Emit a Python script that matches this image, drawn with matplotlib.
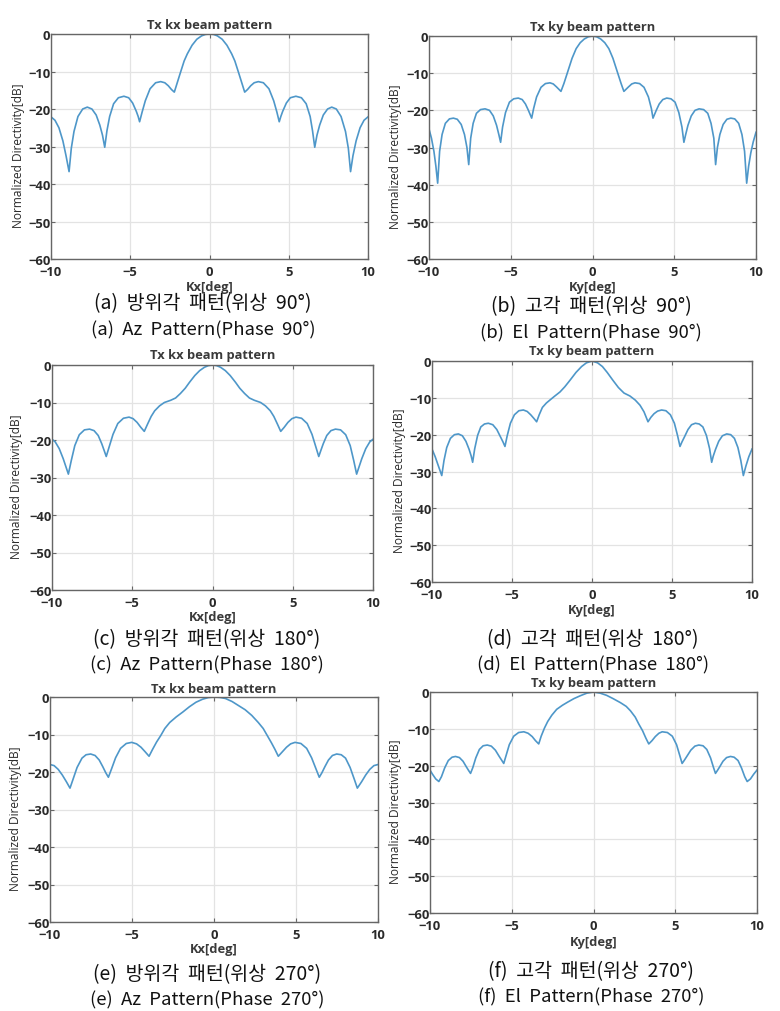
import matplotlib
matplotlib.use("Agg")
import matplotlib.pyplot as plt

# ---- data (deg, normalized directivity dB) ----
az90_x = [-10, -9.75, -9.5, -9.25, -9.05, -8.86, -8.72, -8.55, -8.3, -8.0, -7.71, -7.42, -7.15, -6.92, -6.75,
          -6.61, -6.47, -6.3, -6.05, -5.75, -5.4, -5.1, -4.85, -4.62, -4.5, -4.41, -4.25, -4.05, -3.75, -3.4,
          -3.08, -2.82, -2.6, -2.4, -2.22, -2.05, -1.85, -1.6, -1.4, -1.1, -0.8, -0.5, -0.25, 0, 0.25, 0.5, 0.8,
          1.1, 1.4, 1.6, 1.85, 2.05, 2.22, 2.4, 2.6, 2.82, 3.08, 3.4, 3.75, 4.05, 4.25, 4.4, 4.5, 4.62, 4.85,
          5.1, 5.45, 5.8, 6.1, 6.35, 6.5, 6.64, 6.78, 6.95, 7.18, 7.45, 7.71, 8.0, 8.3, 8.58, 8.76, 8.9, 9.05,
          9.25, 9.5, 9.75, 10]
az90_db = [-22.1, -23.0, -25.0, -28.5, -32.5, -36.7, -30.5, -26.0, -22.0, -20.0, -19.5, -20.0, -21.6, -24.3, -27.0,
           -30.2, -25.8, -22.0, -18.6, -17.0, -16.6, -17.0, -18.4, -20.6, -22.0, -23.4, -20.8, -17.8, -14.6, -13.0,
           -12.7, -13.0, -13.8, -14.8, -15.5, -13.2, -10.5, -7.2, -5.3, -3.0, -1.4, -0.5, -0.1, 0, -0.1, -0.5, -1.4,
           -3.0, -5.3, -7.2, -10.5, -13.2, -15.5, -14.8, -13.8, -13.0, -12.7, -13.0, -14.6, -17.8, -20.8, -23.4, -22.0, -20.6, -18.4,
           -17.0, -16.6, -17.0, -18.6, -22.0, -25.8, -30.2, -27.0, -24.3, -21.6, -20.0, -19.5, -20.0, -22.0, -26.0, -30.5, -36.7, -32.5,
           -28.5, -25.0, -23.0, -22.1]

el90_x = [-10, -9.85, -9.7, -9.58, -9.47, -9.35, -9.2, -9.0, -8.75, -8.51, -8.27, -8.03, -7.83, -7.68, -7.57,
          -7.45, -7.3, -7.1, -6.85, -6.57, -6.3, -6.07, -5.87, -5.73, -5.62, -5.5, -5.32, -5.08, -4.82, -4.54,
          -4.3, -4.1, -3.92, -3.72, -3.6, -3.42, -3.15, -2.88, -2.6, -2.4, -2.2, -1.93, -1.75, -1.5, -1.25, -1.0,
          -0.75, -0.5, -0.25, 0, 0.25, 0.5, 0.75, 1.0, 1.25, 1.5, 1.75, 1.92, 2.2, 2.4, 2.6, 2.88, 3.15, 3.42,
          3.6, 3.7, 3.9, 4.08, 4.3, 4.54, 4.8, 5.05, 5.28, 5.47, 5.59, 5.7, 5.84, 6.04, 6.27, 6.52, 6.8, 7.05,
          7.25, 7.42, 7.53, 7.64, 7.79, 7.99, 8.22, 8.46, 8.7, 8.94, 9.14, 9.3, 9.43, 9.55, 9.68, 9.83, 10]
el90_db = [-25.0, -27.5, -31.0, -35.0, -39.6, -31.0, -26.5, -23.5, -22.3, -22.1, -22.4, -23.8, -26.5, -30.0, -34.6,
           -27.5, -23.5, -20.8, -19.8, -19.6, -20.0, -21.5, -24.0, -26.5, -28.6, -24.5, -20.6, -17.8, -16.9, -16.7,
           -17.1, -18.3, -20.0, -22.1, -19.5, -16.4, -13.8, -12.8, -12.6, -12.9, -13.7, -14.9, -12.8, -9.4, -6.0, -3.4,
           -1.8, -0.8, -0.2, 0, -0.2, -0.8, -1.8, -3.4, -6.0, -9.4, -12.8, -14.9, -13.7, -12.9, -12.6, -12.8, -13.8, -16.4,
           -19.5, -22.1, -20.0, -18.3, -17.1, -16.7, -16.9, -17.8, -20.6, -24.5, -28.6, -26.5, -24.0, -21.5, -20.0, -19.6, -19.8, -20.8,
           -23.5, -27.5, -34.6, -30.0, -26.5, -23.8, -22.4, -22.1, -22.3, -23.5, -26.5, -31.0, -39.6, -35.0, -31.5, -28.5, -25.9]

az180_x = [-10, -9.8, -9.55, -9.3, -9.12, -8.98, -8.8, -8.58, -8.3, -7.98, -7.66, -7.38, -7.12, -6.9, -6.75,
           -6.62, -6.45, -6.2, -5.9, -5.55, -5.2, -4.95, -4.7, -4.47, -4.25, -4.05, -3.82, -3.6, -3.3, -3.0,
           -2.6, -2.3, -2.0, -1.7, -1.43, -1.1, -0.8, -0.5, -0.25, 0, 0.25, 0.5, 0.8, 1.1, 1.43, 1.7, 2.0, 2.3,
           2.6, 3.0, 3.3, 3.6, 3.82, 4.05, 4.25, 4.47, 4.7, 4.95, 5.2, 5.55, 5.9, 6.2, 6.45, 6.62, 6.75, 6.9,
           7.12, 7.38, 7.66, 7.98, 8.3, 8.58, 8.8, 8.98, 9.12, 9.3, 9.55, 9.8, 10]
az180_db = [-19.8, -20.5, -22.3, -25.0, -27.3, -29.1, -25.5, -21.5, -18.6, -17.3, -17.1, -17.5, -18.8, -21.0, -22.8,
            -24.4, -22.0, -18.5, -15.6, -14.2, -13.9, -14.3, -15.3, -16.6, -17.7, -15.8, -13.7, -12.2, -10.9, -10.0,
            -9.4, -8.8, -7.6, -6.2, -4.6, -2.8, -1.5, -0.6, -0.15, 0, -0.15, -0.6, -1.5, -2.8, -4.6, -6.2, -7.6, -8.8,
            -9.4, -10.0, -10.9, -12.2, -13.7, -15.8, -17.7, -16.6, -15.3, -14.3, -13.9, -14.2, -15.6, -18.5, -22.0, -24.4, -22.8, -21.0,
            -18.8, -17.5, -17.1, -17.3, -18.6, -21.5, -25.5, -29.1, -27.3, -25.0, -22.3, -20.5, -19.8]

el180_x = [-10, -9.8, -9.6, -9.39, -9.25, -9.08, -8.85, -8.6, -8.35, -8.1, -7.88, -7.68, -7.55, -7.46, -7.33,
           -7.15, -6.95, -6.72, -6.48, -6.2, -5.95, -5.72, -5.56, -5.44, -5.3, -5.1, -4.85, -4.57, -4.29, -4.05,
           -3.83, -3.63, -3.46, -3.3, -3.1, -2.85, -2.63, -2.35, -2.0, -1.7, -1.37, -1.0, -0.65, -0.35, 0,
           0.35, 0.65, 0.95, 1.3, 1.65, 2.0, 2.37, 2.7, 3.0, 3.25, 3.5, 3.68, 3.88, 4.1, 4.35, 4.62, 4.9, 5.15,
           5.35, 5.5, 5.62, 5.78, 6.0, 6.22, 6.46, 6.7, 6.93, 7.15, 7.35, 7.48, 7.58, 7.72, 7.92, 8.15, 8.42,
           8.67, 8.9, 9.12, 9.3, 9.46, 9.62, 9.8, 10]
el180_db = [-23.9, -26.0, -28.5, -31.1, -27.0, -23.5, -21.0, -20.0, -19.8, -20.3, -21.8, -24.0, -25.8, -27.5, -23.8,
            -20.2, -17.9, -17.1, -16.9, -17.3, -18.6, -20.6, -22.0, -23.2, -20.3, -16.9, -14.6, -13.5, -13.3, -13.7,
            -14.6, -15.6, -16.5, -14.6, -12.6, -11.4, -10.6, -9.6, -8.4, -7.0, -5.2, -3.1, -1.5, -0.5, 0,
            -0.5, -1.5, -3.1, -5.2, -7.2, -8.7, -9.5, -10.6, -12.0, -13.8, -16.5, -15.3, -14.3, -13.6, -13.3, -13.5, -14.6, -16.9,
            -20.3, -23.2, -22.0, -20.6, -18.6, -17.3, -16.9, -17.1, -17.9, -20.2, -23.8, -27.5, -25.8, -24.0, -21.8, -20.3, -19.8,
            -20.0, -21.0, -23.5, -27.0, -31.1, -28.5, -26.0, -23.9]

az270_x = [-10, -9.75, -9.5, -9.25, -9.0, -8.78, -8.6, -8.35, -8.05, -7.8, -7.52, -7.25, -7.0, -6.78, -6.6,
           -6.44, -6.25, -6.0, -5.7, -5.35, -5.02, -4.72, -4.45, -4.2, -3.96, -3.75, -3.5, -3.25, -3.0, -2.7,
           -2.3, -1.9, -1.5, -1.1, -0.7, -0.35, 0, 0.35, 0.7, 1.1, 1.5, 1.9, 2.3, 2.7, 3.0, 3.25, 3.5, 3.72,
           3.92, 4.17, 4.42, 4.67, 4.94, 5.3, 5.65, 5.95, 6.22, 6.42, 6.58, 6.76, 6.98, 7.22, 7.48, 7.76, 8.02,
           8.3, 8.56, 8.74, 9.0, 9.25, 9.5, 9.75, 10]
az270_db = [-18.0, -18.3, -19.3, -20.8, -22.6, -24.3, -22.0, -18.8, -16.3, -15.4, -15.2, -15.6, -16.8, -18.6, -20.2,
            -21.4, -19.2, -16.2, -13.7, -12.4, -12.1, -12.5, -13.4, -14.6, -15.8, -14.0, -12.0, -10.3, -8.4, -6.8,
            -5.3, -4.0, -2.6, -1.4, -0.6, -0.15, 0, -0.1, -0.4, -1.2, -2.3, -3.4, -4.9, -6.8, -8.4, -10.3, -12.2, -14.0,
            -15.8, -14.6, -13.4, -12.5, -12.1, -12.4, -13.7, -16.2, -19.2, -21.4, -20.2, -18.6, -16.8, -15.6, -15.2, -15.4, -16.3,
            -18.8, -22.0, -24.3, -22.6, -20.8, -19.3, -18.3, -18.0]

el270_x = [-10, -9.85, -9.65, -9.46, -9.3, -9.1, -8.88, -8.65, -8.44, -8.2, -7.98, -7.78, -7.64, -7.52, -7.38,
           -7.2, -6.98, -6.75, -6.5, -6.25, -6.0, -5.78, -5.62, -5.49, -5.35, -5.15, -4.88, -4.58, -4.26, -4.0,
           -3.75, -3.55, -3.35, -3.2, -3.0, -2.8, -2.55, -2.25, -1.9, -1.6, -1.2, -0.8, -0.4, 0,
           0.4, 0.8, 1.2, 1.65, 2.0, 2.26, 2.55, 2.77, 3.0, 3.2, 3.38, 3.58, 3.78, 4.0, 4.2, 4.52, 4.82, 5.08,
           5.28, 5.42, 5.56, 5.72, 5.95, 6.2, 6.44, 6.7, 6.93, 7.16, 7.34, 7.46, 7.58, 7.72, 7.92, 8.14, 8.38,
           8.6, 8.84, 9.05, 9.25, 9.4, 9.6, 9.8, 10]
el270_db = [-21.2, -22.3, -23.6, -24.3, -23.0, -20.6, -18.6, -17.7, -17.5, -17.8, -18.8, -20.3, -21.3, -22.1, -20.5,
            -17.9, -15.6, -14.6, -14.4, -14.7, -15.8, -17.4, -18.5, -19.4, -17.3, -14.3, -12.0, -11.0, -10.8, -11.2,
            -12.1, -13.2, -14.1, -12.0, -9.8, -8.0, -6.3, -4.7, -3.6, -2.8, -1.8, -1.0, -0.3, 0,
            -0.3, -0.9, -1.8, -2.9, -3.9, -5.1, -6.8, -8.7, -10.5, -12.5, -14.1, -13.2, -12.1, -11.2, -10.8, -11.0, -12.0, -14.3,
            -17.3, -19.4, -18.5, -17.4, -15.8, -14.7, -14.4, -14.6, -15.6, -17.9, -20.5, -22.1, -21.3, -20.3, -18.8, -17.8, -17.5,
            -17.7, -18.6, -20.6, -23.0, -24.3, -23.6, -22.3, -21.2]

titles = ["Tx kx beam pattern", "Tx ky beam pattern"] * 3
xlabels = ["Kx[deg]", "Ky[deg]"] * 3
captions_kr = ["(a)  방위각  패턴(위상  90°)", "(b)  고각  패턴(위상  90°)",
               "(c)  방위각  패턴(위상  180°)", "(d)  고각  패턴(위상  180°)",
               "(e)  방위각  패턴(위상  270°)", "(f)  고각  패턴(위상  270°)"]
captions_en = ["(a)  Az  Pattern(Phase  90°)", "(b)  El  Pattern(Phase  90°)",
               "(c)  Az  Pattern(Phase  180°)", "(d)  El  Pattern(Phase  180°)",
               "(e)  Az  Pattern(Phase  270°)", "(f)  El  Pattern(Phase  270°)"]
series = [(az90_x, az90_db), (el90_x, el90_db), (az180_x, az180_db),
          (el180_x, el180_db), (az270_x, az270_db), (el270_x, el270_db)]

# ---- layout in reference pixels ----
W, H = 780, 1012
# axes box: left, right, top, bottom
boxes = [(51, 368, 35, 260), (429, 756, 37, 260),
         (52, 373, 366, 591), (432, 752, 362, 583),
         (50, 378, 698, 923), (430, 757, 693, 914)]
title_y = [26, 28, 356, 352, 690, 684]
xlab_y = [287, 287, 618, 611, 950, 943]
ylab_x = [19, 395, 17, 400, 16, 395]
cap_x = [203, 591, 207, 593, 207, 591]
cap_kr_y = [304, 307, 640, 640, 975, 972]
cap_en_y = [330, 333, 665, 665, 1000, 997]

line_color = "#4e97c9"
cjk = ["Noto Sans CJK KR", "DejaVu Sans"]

fig = plt.figure(figsize=(W / 100, H / 100), dpi=100)
fig.patch.set_facecolor("white")


def fx(px):
    return px / W


def fy(py):
    return 1 - py / H


for i, (xs, ys) in enumerate(series):
    l, r, t, b = boxes[i]
    ax = fig.add_axes([fx(l), fy(b), (r - l) / W, (b - t) / H])
    ax.plot(xs, ys, color=line_color, lw=1.2)
    ax.set_xlim(-10, 10)
    ax.set_ylim(-60, 0)
    ax.set_xticks([-10, -5, 0, 5, 10])
    ax.set_yticks([-60, -50, -40, -30, -20, -10, 0])
    ax.grid(True, color="#e3e3e3", lw=0.9)
    ax.set_axisbelow(True)
    for s in ax.spines.values():
        s.set_color("#666666")
        s.set_linewidth(1.0)
    ax.tick_params(direction="in", length=3, width=0.8, colors="#666666",
                   top=True, right=True)
    ax.tick_params(axis="x", pad=4.0)
    ax.tick_params(axis="y", pad=0.5)
    for lab in ax.get_xticklabels() + ax.get_yticklabels():
        lab.set_fontfamily("Open Sans")
        lab.set_fontsize(9.4)
        lab.set_fontweight("bold")
        lab.set_color("#2a2a2a")

    cx = (l + r) / 2
    fig.text(fx(cx), fy(title_y[i]), titles[i], ha="center", va="center",
             fontsize=9.3, family="Open Sans", fontweight="bold", color="#3a3a3a")
    fig.text(fx(cx), fy(xlab_y[i]), xlabels[i], ha="center", va="center",
             fontsize=9.3, family="Open Sans", fontweight="bold", color="#3a3a3a")
    fig.text(fx(ylab_x[i]), fy((t + b) / 2 + 8), "Normalized Directivity[dB]", rotation=90,
             ha="center", va="center", fontsize=8.6, family="Open Sans", color="#2a2a2a")
    fig.text(fx(cap_x[i]), fy(cap_kr_y[i]), captions_kr[i], ha="center", va="center",
             fontsize=14, family=cjk, color="#111111")
    fig.text(fx(cap_x[i]), fy(cap_en_y[i]), captions_en[i], ha="center", va="center",
             fontsize=13.3, family=cjk, color="#111111")

fig.savefig("out.png", dpi=100)
